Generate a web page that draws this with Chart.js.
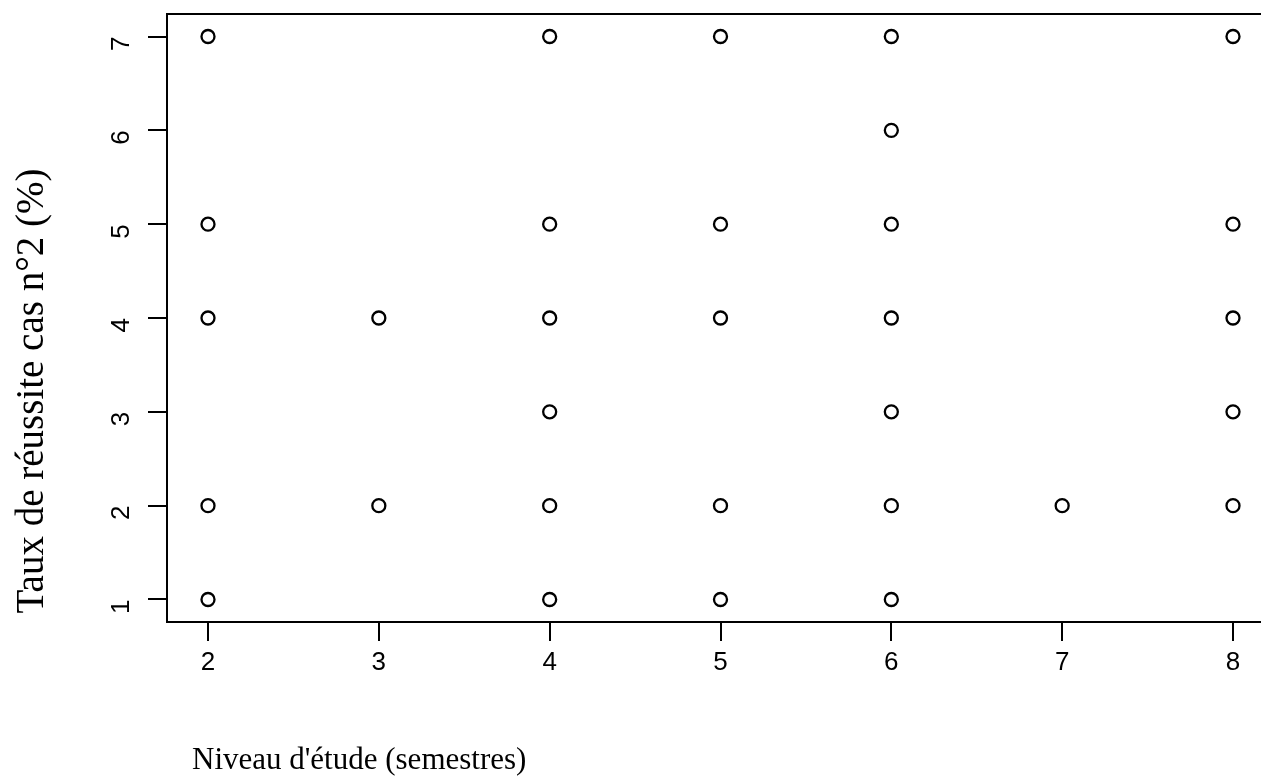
<!DOCTYPE html>
<html>
<head>
<meta charset="utf-8">
<script src="https://cdn.jsdelivr.net/npm/chart.js@4.4.1/dist/chart.umd.min.js"></script>
<style>
  html, body { margin: 0; padding: 0; background: #fff; overflow: hidden; }
  #wrap { width: 1300px; height: 783px; position: relative; }
</style>
</head>
<body>
<div id="wrap"><canvas id="chart"></canvas></div>
<script>
// niveau d'étude (semestres) vs taux de réussite cas n°2
const niveau = [2, 2, 2, 2, 2, 3, 3, 4, 4, 4, 4, 4, 4, 5, 5, 5, 5, 5, 6, 6, 6, 6, 6, 6, 6, 7, 8, 8, 8, 8, 8];
const taux   = [7, 5, 4, 2, 1, 4, 2, 7, 5, 4, 3, 2, 1, 7, 5, 4, 2, 1, 7, 6, 5, 4, 3, 2, 1, 2, 7, 5, 4, 3, 2];
const xTicks = [2, 3, 4, 5, 6, 7, 8];
const yTicks = [1, 2, 3, 4, 5, 6, 7];
const xTitle = "Niveau d'étude (semestres)";
const yTitle = "Taux de réussite cas n°2 (%)";

const points = niveau.map((x, i) => ({ x: x, y: taux[i] }));

// box around plot area + axis titles (R style)
const rPlot = {
  id: "rPlot",
  afterDraw(chart) {
    const { ctx, chartArea: a } = chart;
    ctx.save();
    ctx.strokeStyle = "#000";
    ctx.lineWidth = 2;
    ctx.strokeRect(a.left, a.top, a.right - a.left, a.bottom - a.top);

    ctx.fillStyle = "#000";
    ctx.font = "31px 'Liberation Serif'";
    ctx.textAlign = "left";
    ctx.textBaseline = "alphabetic";
    ctx.fillText(xTitle, 192, 769);

    ctx.translate(43, 391);
    ctx.rotate(-Math.PI / 2);
    ctx.font = "39px 'Liberation Serif'";
    ctx.textAlign = "center";
    ctx.fillText(yTitle, 0, 0);
    ctx.restore();
  }
};

new Chart(document.getElementById("chart"), {
  type: "scatter",
  data: {
    datasets: [{
      data: points,
      pointStyle: "circle",
      pointRadius: 6.5,
      pointHoverRadius: 6.5,
      borderColor: "#000",
      borderWidth: 2.3,
      backgroundColor: "rgba(0,0,0,0)"
    }]
  },
  options: {
    responsive: true,
    maintainAspectRatio: false,
    animation: false,
    layout: { padding: { top: 14, right: 26, left: 0, bottom: 0 } },
    plugins: { legend: { display: false }, tooltip: { enabled: false } },
    scales: {
      x: {
        type: "linear",
        min: 1.76,
        max: 8.24,
        afterBuildTicks: (s) => { s.ticks = xTicks.map(v => ({ value: v })); },
        afterFit: (s) => { s.height = 783 - 622; s.paddingLeft = 0; s.paddingRight = 0; },
        grid: { drawOnChartArea: false, color: "#000", lineWidth: 2, tickLength: 19 },
        border: { color: "#000", width: 2 },
        ticks: {
          color: "#000",
          font: { family: "Liberation Sans", size: 26 },
          padding: 6,
          maxRotation: 0
        }
      },
      y: {
        type: "linear",
        min: 0.76,
        max: 7.24,
        afterBuildTicks: (s) => { s.ticks = yTicks.map(v => ({ value: v })); },
        afterFit: (s) => { s.width = 167; s.paddingTop = 0; s.paddingBottom = 0; },
        grid: { drawOnChartArea: false, color: "#000", lineWidth: 2, tickLength: 19 },
        border: { color: "#000", width: 2 },
        ticks: {
          color: "#000",
          font: { family: "Liberation Sans", size: 26 },
          padding: 26,
          minRotation: 90,
          maxRotation: 90
        }
      }
    }
  },
  plugins: [rPlot]
});
</script>
</body>
</html>
